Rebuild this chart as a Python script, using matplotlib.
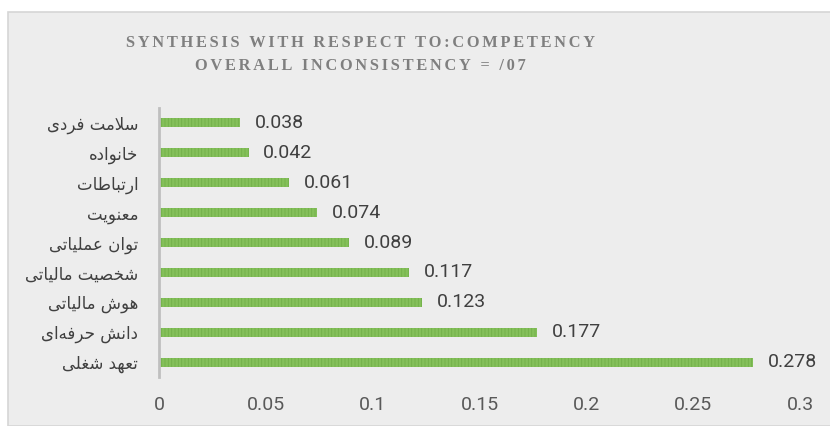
import matplotlib.pyplot as plt
from matplotlib.patches import Rectangle

labels = ['سلامت فردی', 'خانواده', 'ارتباطات', 'معنویت', 'توان عملیاتی',
          'شخصیت مالیاتی', 'هوش مالیاتی', 'دانش حرفه\u200cای', 'تعهد شغلی']
values = [0.038, 0.042, 0.061, 0.074, 0.089, 0.117, 0.123, 0.177, 0.278]
xticks = [0, 0.05, 0.1, 0.15, 0.2, 0.25, 0.3]
xticklabels = ['0', '0.05', '0.1', '0.15', '0.2', '0.25', '0.3']
title_lines = ['SYNTHESIS WITH RESPECT TO:COMPETENCY', 'OVERALL INCONSISTENCY = /07']

# matplotlib has no arabic shaping, so pick presentation forms by hand
# forms: isolated, final, initial, medial
FORMS = {
    'ا': (0xFE8D, 0xFE8E), 'ب': (0xFE8F, 0xFE90, 0xFE91, 0xFE92),
    'ت': (0xFE95, 0xFE96, 0xFE97, 0xFE98), 'ح': (0xFEA1, 0xFEA2, 0xFEA3, 0xFEA4),
    'خ': (0xFEA5, 0xFEA6, 0xFEA7, 0xFEA8), 'د': (0xFEA9, 0xFEAA),
    'ر': (0xFEAD, 0xFEAE), 'س': (0xFEB1, 0xFEB2, 0xFEB3, 0xFEB4),
    'ش': (0xFEB5, 0xFEB6, 0xFEB7, 0xFEB8), 'ص': (0xFEB9, 0xFEBA, 0xFEBB, 0xFEBC),
    'ط': (0xFEC1, 0xFEC2, 0xFEC3, 0xFEC4), 'ع': (0xFEC9, 0xFECA, 0xFECB, 0xFECC),
    'غ': (0xFECD, 0xFECE, 0xFECF, 0xFED0), 'ف': (0xFED1, 0xFED2, 0xFED3, 0xFED4),
    'ل': (0xFEDD, 0xFEDE, 0xFEDF, 0xFEE0), 'م': (0xFEE1, 0xFEE2, 0xFEE3, 0xFEE4),
    'ن': (0xFEE5, 0xFEE6, 0xFEE7, 0xFEE8), 'ه': (0xFEE9, 0xFEEA, 0xFEEB, 0xFEEC),
    'و': (0xFEED, 0xFEEE), 'ی': (0xFEEF, 0xFEF0, 0xFEF3, 0xFEF4),
    'لا': (0xFEFB, 0xFEFC),
}


def shape(text):
    chars = []
    i = 0
    while i < len(text):
        if text[i] == 'ل' and i + 1 < len(text) and text[i + 1] == 'ا':
            chars.append('لا')
            i += 2
        else:
            chars.append(text[i])
            i += 1
    out = []
    for i, c in enumerate(chars):
        if c not in FORMS:
            out.append('' if c == '\u200c' else c)
            continue
        f = FORMS[c]
        prev = chars[i - 1] if i > 0 else None
        nxt = chars[i + 1] if i + 1 < len(chars) else None
        join_prev = prev in FORMS and len(FORMS[prev]) == 4
        join_next = len(f) == 4 and nxt in FORMS
        if join_prev and join_next:
            g = f[3]
        elif join_prev:
            g = f[1]
        elif join_next:
            g = f[2]
        else:
            g = f[0]
        out.append(chr(g))
    return ''.join(out)[::-1]


def spaced(s):
    return '\u2006'.join(s)


plt.rcParams['hatch.linewidth'] = 0.6

fig = plt.figure(figsize=(8.3, 4.26), dpi=100)
fig.patch.set_facecolor('white')
fig.patches.append(Rectangle((7.5 / 830, 0), 1, 1 - 11.5 / 426, transform=fig.transFigure,
                             facecolor='#ededed', edgecolor='#d6d6d6', linewidth=1.2, zorder=-5))

ax = fig.add_axes([159 / 830, 49 / 426, 641 / 830, 269 / 426])
ax.set_facecolor('none')

y = list(range(len(labels)))
ax.barh(y, values, height=0.3, color='#84c05a', edgecolor='#72b049', linewidth=0,
        hatch='|||||', zorder=3)

for yi, v in zip(y, values):
    ax.annotate(f'{v:.3f}', (v, yi), xytext=(10.5, 0), textcoords='offset points',
                va='center', ha='left', fontsize=14, color='#404040', family='Roboto')

ax.set_xlim(0, 0.3)
ax.set_ylim(len(labels) - 0.5, -0.5)
ax.set_xticks(xticks)
ax.set_xticklabels(xticklabels, fontsize=14, color='#595959', family='Roboto')
ax.set_yticks(y)
ax.set_yticklabels([shape(l) for l in labels], fontsize=12, color='#404040', family='DejaVu Sans')
ax.tick_params(axis='x', length=0, pad=14)
ax.tick_params(axis='y', length=0, pad=15)
for s in ['top', 'right', 'bottom']:
    ax.spines[s].set_visible(False)
ax.spines['left'].set_color('#bfbfbf')
ax.spines['left'].set_linewidth(2)
ax.spines['left'].set_zorder(4)

fig.text(360 / 830, 1 - 43 / 426, spaced(title_lines[0]), ha='center', va='center',
         fontsize=11.8, fontweight='bold', color='#7f7f7f', family=['Liberation Serif', 'DejaVu Serif'])
fig.text(360 / 830, 1 - 66 / 426, spaced(title_lines[1]), ha='center', va='center',
         fontsize=11.8, fontweight='bold', color='#7f7f7f', family=['Liberation Serif', 'DejaVu Serif'])

fig.savefig('out.png', dpi=100)
